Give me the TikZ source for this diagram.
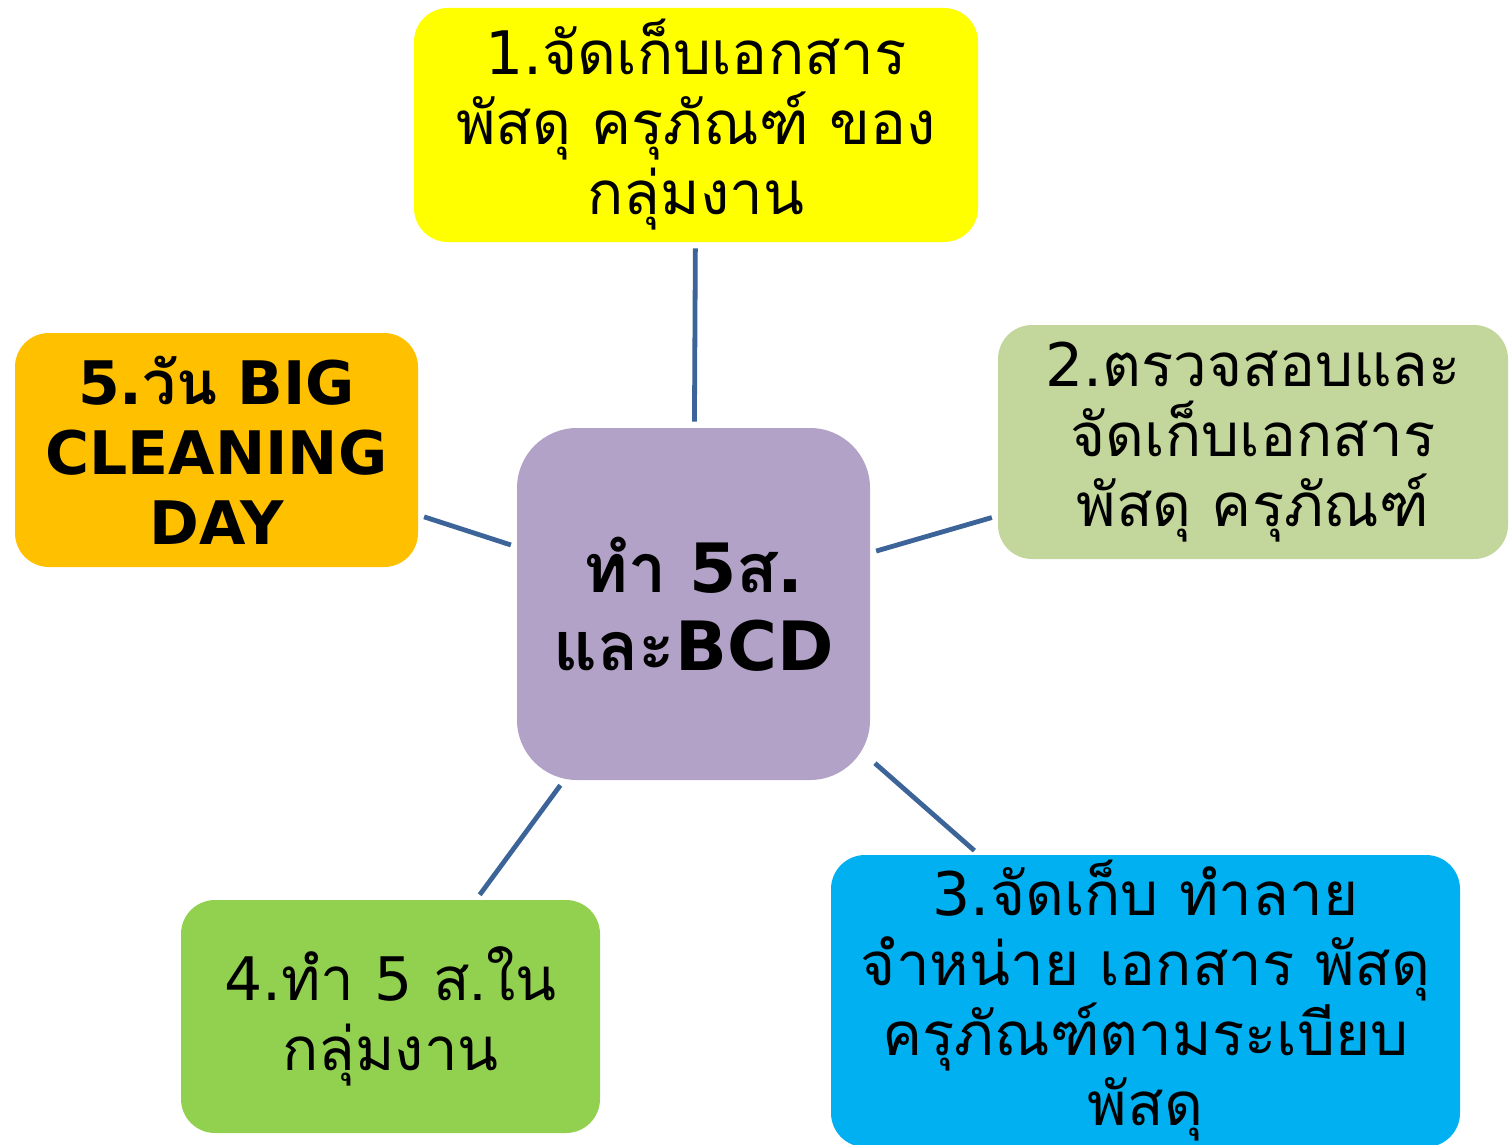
\documentclass[tikz,border=0pt]{standalone}
\usepackage{fontspec}
\setmainfont[Script=Thai]{Loma}
\newfontfamily\latin{DejaVu Sans}
\definecolor{linkblue}{RGB}{60,100,152}
\definecolor{boxyellow}{RGB}{255,255,0}
\definecolor{boxsage}{RGB}{195,214,155}
\definecolor{boxlilac}{RGB}{178,162,199}
\definecolor{boxcyan}{RGB}{0,176,240}
\definecolor{boxlime}{RGB}{146,208,80}
\definecolor{boxamber}{RGB}{255,192,0}
\newcommand{\lt}[1]{{\latin #1}}
\begin{document}
\begin{tikzpicture}[x=0.5pt,y=-0.5pt,
  task/.style={rounded corners=17pt, inner sep=0pt, align=center,
    font=\fontsize{30}{35}\selectfont},
  link/.style={linkblue, line width=2.4pt, shorten >=3pt, shorten <=3pt}]

\useasboundingbox (0,0) rectangle (1509,1145);

% the hub in the middle
\node[task, fill=boxlilac, rounded corners=30pt, minimum width=176.5pt, minimum height=176pt,
  font=\fontsize{34}{39}\selectfont\bfseries] (hub) at (693.5,604) {ทำ \lt{5}ส\lt{.}\\และ\lt{BCD}};

% the five tasks round it
\node[task, fill=boxyellow, minimum width=282pt, minimum height=117pt] (one) at (696,125)
  {\lt{1.}จัดเก็บเอกสาร\\พัสดุ ครุภัณฑ์ ของ\\กลุ่มงาน};
\node[task, fill=boxsage, minimum width=255pt, minimum height=117pt] (two) at (1253,442)
  {\lt{2.}ตรวจสอบและ\\จัดเก็บเอกสาร\\พัสดุ ครุภัณฑ์};
\node[task, fill=boxcyan, minimum width=314.5pt, minimum height=146pt] (three) at (1145.5,1001)
  {\lt{3.}จัดเก็บ ทำลาย\\จำหน่าย เอกสาร พัสดุ\\ครุภัณฑ์ตามระเบียบ\\พัสดุ};
\node[task, fill=boxlime, minimum width=209.5pt, minimum height=116.5pt] (four) at (390.5,1016.5)
  {\lt{4.}ทำ \lt{5} ส.ใน\\กลุ่มงาน};
\node[task, fill=boxamber, minimum width=201.5pt, minimum height=117pt,
  font=\fontsize{30}{35}\selectfont\bfseries] (five) at (216.5,450)
  {\lt{5.}วัน \lt{BIG}\\\lt{CLEANING}\\\lt{DAY}};

\foreach \b in {one,two,three,four,five}{
  \draw[link] (hub) -- (\b);
}

\end{tikzpicture}
\end{document}
